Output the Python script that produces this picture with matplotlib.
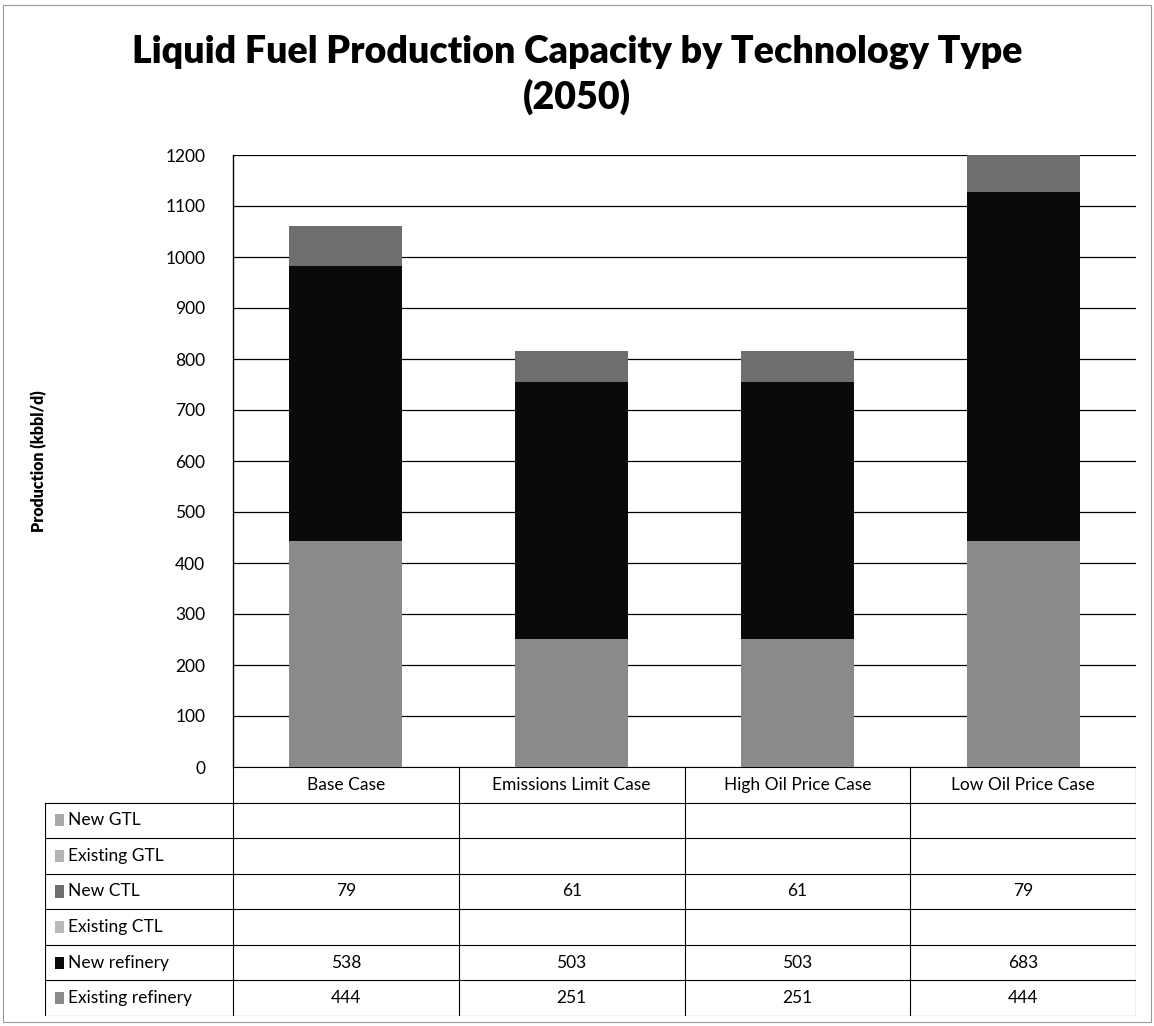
import numpy as np
import matplotlib.pyplot as plt
from matplotlib.patches import Rectangle

plt.rcParams['font.family'] = ['Lato', 'DejaVu Sans']

cases = ["Base Case", "Emissions Limit Case", "High Oil Price Case", "Low Oil Price Case"]
series = ["New GTL", "Existing GTL", "New CTL", "Existing CTL", "New refinery", "Existing refinery"]
new_gtl = [0, 0, 0, 0]
existing_gtl = [0, 0, 0, 0]
new_ctl = [79, 61, 61, 79]
existing_ctl = [0, 0, 0, 0]
new_refinery = [538, 503, 503, 683]
existing_refinery = [444, 251, 251, 444]
colors = ["#a8a8a8", "#b4b4b4", "#6e6e6e", "#b8b8b8", "#0a0a0a", "#8a8a8a"]

values = [new_gtl, existing_gtl, new_ctl, existing_ctl, new_refinery, existing_refinery]

W, H = 1154, 1026
fig = plt.figure(figsize=(W / 100, H / 100), dpi=100)

def fx(px):
    return px / W

def fy(py):
    return 1 - py / H

# outer chart border
fig.patches.append(Rectangle((fx(3), fy(1022)), fx(1148), 1017 / H, transform=fig.transFigure,
                             fill=False, edgecolor="#999999", linewidth=0.8))

x0, x1, ytop, ybot = 233, 1136, 155, 767
ax = fig.add_axes([fx(x0), fy(ybot), fx(x1 - x0), (ybot - ytop) / H])
x = np.arange(len(cases))
bottom = np.zeros(len(cases))
# stack from bottom: Existing refinery first
for name, vals, c in reversed(list(zip(series, values, colors))):
    v = np.array(vals, dtype=float)
    ax.bar(x, v, 0.5, bottom=bottom, color=c, edgecolor="none", zorder=2)
    bottom += v

ax.set_xlim(-0.5, 3.5)
ax.set_ylim(0, 1200)
ax.set_yticks(np.arange(0, 1201, 100))
ax.tick_params(axis="y", length=0, labelsize=12.5, pad=20)
ax.set_xticks([])
ax.grid(axis="y", color="black", linewidth=0.9, zorder=0)
for s in ["top", "right", "bottom"]:
    ax.spines[s].set_visible(False)
ax.spines["left"].set_linewidth(1.0)
ax.set_ylabel("Production (kbbl/d)", fontsize=11.5, fontweight="heavy", labelpad=85)

fig.text(0.5, fy(75), "Liquid Fuel Production Capacity by Technology Type\n(2050)",
         ha="center", va="center", fontsize=27, fontweight="heavy", linespacing=1.3)

# data table
tl, tb = 45, 1016
tax = fig.add_axes([fx(tl), fy(tb), fx(x1 - tl), (tb - ybot) / H])
left = -0.5 - (x0 - tl) / ((x1 - x0) / 4)
tax.set_xlim(left, 3.5)
tax.set_ylim(7, 0)
tax.axis("off")
lw = 0.8
fs = 12.5
# header row
tax.plot([-0.5, 3.5], [0, 0], color="black", lw=lw)
for i, c in enumerate(cases):
    tax.text(i, 0.5, c, ha="center", va="center", fontsize=fs)
# horizontal lines
for r in range(1, 8):
    tax.plot([left, 3.5], [r, r], color="black", lw=lw)
for xv in [-0.5, 0.5, 1.5, 2.5, 3.5]:
    tax.plot([xv, xv], [0, 7], color="black", lw=lw)
tax.plot([left, left], [1, 7], color="black", lw=lw)
for r, (name, vals, c) in enumerate(zip(series, values, colors)):
    yc = r + 1.5
    tax.add_patch(Rectangle((left + 0.045, yc - 0.17), 0.04, 0.34, facecolor=c,
                            edgecolor="none"))
    tax.text(left + 0.1, yc, name, ha="left", va="center", fontsize=fs)
    for i, v in enumerate(vals):
        if v:
            tax.text(i, yc, str(v), ha="center", va="center", fontsize=fs)

fig.savefig("out.png", dpi=100)
